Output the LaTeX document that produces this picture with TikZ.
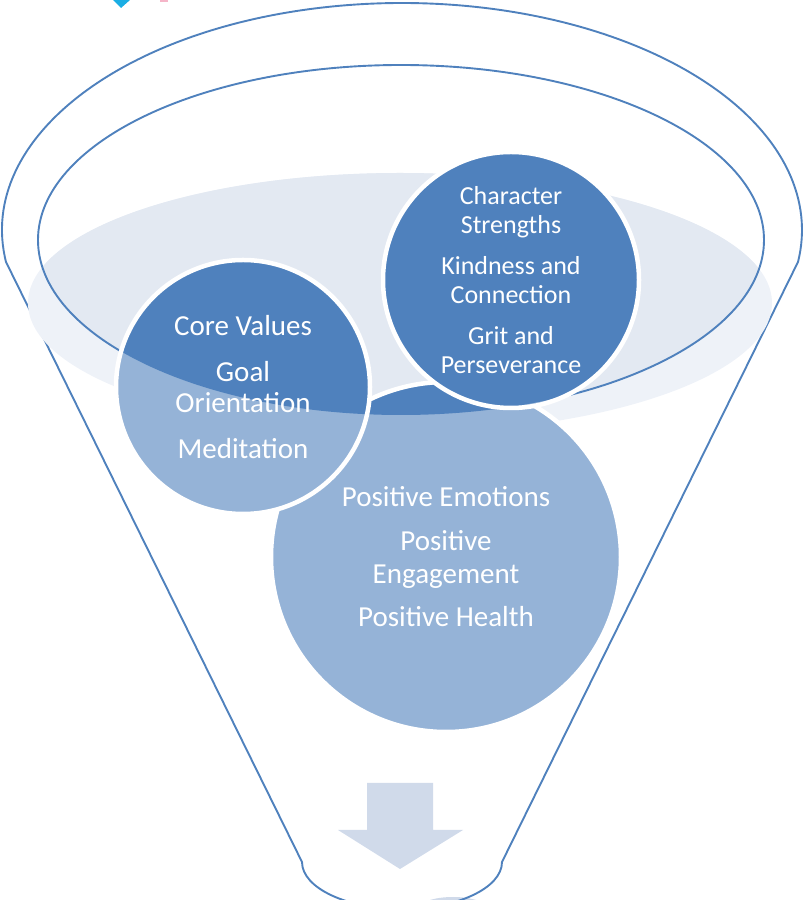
\documentclass[tikz,border=0pt]{standalone}
\usepackage{fontspec}
\setmainfont{Carlito}
\definecolor{dblue}{HTML}{4F81BD}
\definecolor{lblue}{HTML}{95B3D7}
\definecolor{bandout}{HTML}{EEF2F8}
\definecolor{bandin}{HTML}{E3E9F2}
\definecolor{arrowc}{HTML}{D0DAEA}
\definecolor{logocyan}{HTML}{1BAEE4}
\definecolor{logopink}{HTML}{F5B5C8}
\begin{document}
\begin{tikzpicture}[x=1pt,y=1pt,
  outline/.style={draw=dblue, line width=1.9pt},
  ring/.style={draw=white, line width=4.5pt},
  lbl/.style={text=white, align=center, inner sep=0pt}]
\useasboundingbox (0,0) rectangle (807,900);
\clip (0,0) rectangle (807,900);
% logo fragments
\fill[logocyan] (113,900) -- (130,900) -- (121,892) -- cycle;
\fill[logopink] (160,900) rectangle (168,898);
% bottom sliver
\fill[arrowc] (453,-10) ellipse [x radius=36, y radius=13];
% outer funnel
\draw[outline] (402,670) ++(188.1:400 and 227) arc[start angle=188.1, end angle=-8.1, x radius=400, y radius=227]
  -- (502,38) arc[start angle=0, end angle=-180, x radius=100, y radius=47] -- cycle;
% band
\fill[bandout] (400,597) ellipse [x radius=372, y radius=130];
\begin{scope}
  \clip (401,660) ellipse [x radius=363, y radius=175];
  \fill[bandin] (400,597) ellipse [x radius=372, y radius=130];
\end{scope}
\draw[outline] (401,660) ellipse [x radius=363, y radius=175];
% circles
\coordinate (cB) at (446,343);
\coordinate (cL) at (243,513);
\coordinate (cR) at (511,620);
\foreach \c/\r in {cB/175, cL/127, cR/128}{
  \fill[lblue] (\c) circle[radius=\r];
  \begin{scope}
    \clip (401,660) ellipse [x radius=363, y radius=175];
    \fill[dblue] (\c) circle[radius=\r];
  \end{scope}
  \draw[ring] (\c) circle[radius=\r];
}
% arrow
\fill[arrowc] (367,117) -- (433,117) -- (433,70) -- (463,70) -- (400,31) -- (338,70) -- (367,70) -- cycle;
% labels
\node[lbl, font=\fontsize{29}{31}\selectfont] (tL) at (243,513)
  {Core Values\\[14.5pt] Goal\\ Orientation\\[15pt] Meditation};
\node[lbl, font=\fontsize{26}{29}\selectfont] (tR) at (511,620)
  {Character\\ Strengths\\[12pt] Kindness and\\ Connection\\[12pt] Grit and\\ Perseverance};
\node[lbl, font=\fontsize{29}{33}\selectfont] (tB) at (446,343)
  {Positive Emotions\\[11pt] Positive\\ Engagement\\[10pt] Positive Health};
\end{tikzpicture}
\end{document}
